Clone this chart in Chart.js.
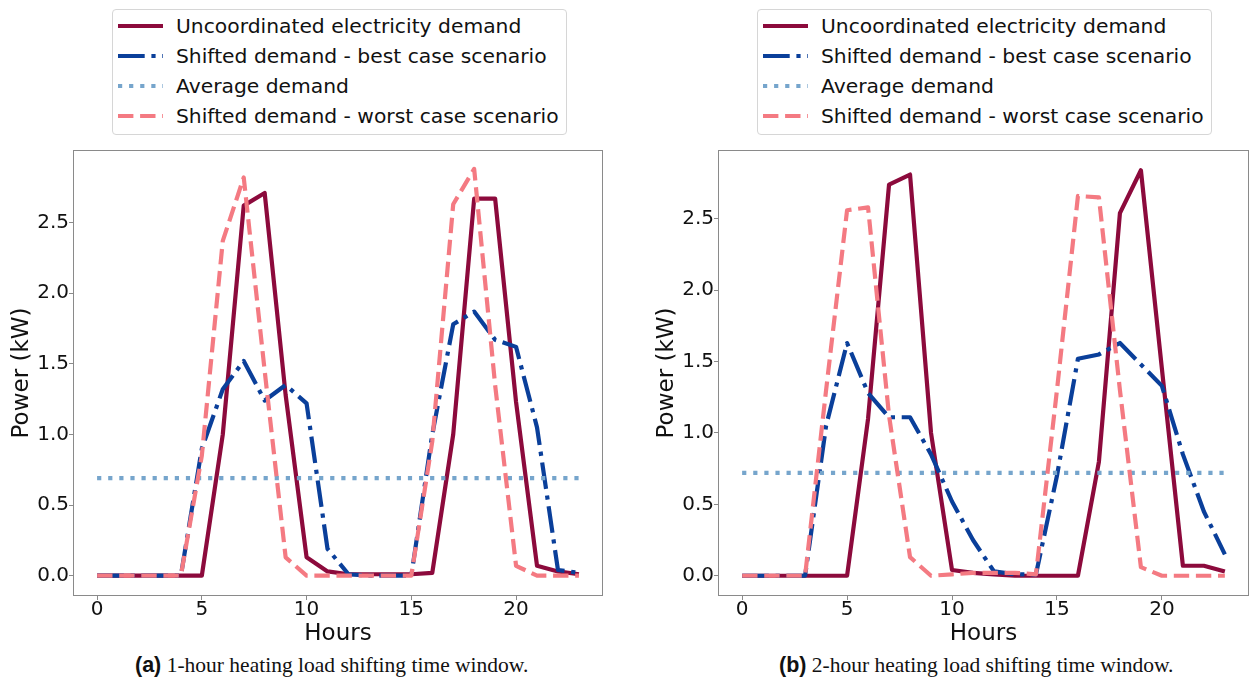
<!DOCTYPE html>
<html>
<head>
<meta charset="utf-8">
<script src="https://cdn.jsdelivr.net/npm/chart.js@4.4.0/dist/chart.umd.min.js"></script>
<style>
    body { margin: 0; width: 1253px; height: 681px; overflow: hidden; background: #fff; position: relative; font-family: "DejaVu Sans", sans-serif; }
    canvas { position: absolute; top: 140px; }
    .legend { position: absolute; top: 9px; width: 455px; height: 126px; box-sizing: border-box; border: 1px solid #d6d6d6; border-radius: 4px; background: #fff; }
    .row { position: absolute; left: 0; height: 30px; display: flex; align-items: center; font-size: 20.3px; color: #111; white-space: nowrap; }
    .row svg { margin-left: 5px; margin-right: 13px; }
    .caption { position: absolute; top: 653px; font-family: "Liberation Serif", serif; font-size: 21.5px; color: #111; white-space: nowrap; }
    .caption b { font-family: "Liberation Sans", sans-serif; }
</style>
</head>
<body>
<div class="legend" id="legendA" style="left:112px"></div>
<div class="legend" id="legendB" style="left:757px"></div>
<canvas id="chartA" width="626" height="510" style="left:0px"></canvas>
<canvas id="chartB" width="608" height="510" style="left:645px"></canvas>
<div class="caption" style="left:135px"><b>(a)</b> 1-hour heating load shifting time window.</div>
<div class="caption" style="left:779px"><b>(b)</b> 2-hour heating load shifting time window.</div>

<script>
// Data
const hours = [0, 1, 2, 3, 4, 5, 6, 7, 8, 9, 10, 11, 12, 13, 14, 15, 16, 17, 18, 19, 20, 21, 22, 23];
const xTicks = [0, 5, 10, 15, 20];
const yTicks = [0, 0.5, 1.0, 1.5, 2.0, 2.5];
const seriesLabels = ['Uncoordinated electricity demand', 'Shifted demand - best case scenario', 'Average demand', 'Shifted demand - worst case scenario'];

// (a) 1-hour window
const uncoordA = [0, 0, 0, 0, 0, 0, 1.0, 2.62, 2.71, 1.28, 0.13, 0.03, 0.01, 0.01, 0.01, 0.01, 0.02, 1.0, 2.67, 2.67, 1.23, 0.07, 0.03, 0.01];
const bestA = [0, 0, 0, 0, 0, 0.9, 1.32, 1.52, 1.24, 1.35, 1.22, 0.19, 0.01, 0, 0, 0, 1.0, 1.78, 1.87, 1.67, 1.62, 1.05, 0.04, 0.02];
const avgA = 0.69;
const worstA = [0, 0, 0, 0, 0, 0.85, 2.37, 2.82, 1.45, 0.13, 0, 0, 0, 0, 0, 0, 0.95, 2.63, 2.88, 1.35, 0.07, 0, 0, 0];

// (b) 2-hour window
const uncoordB = [0, 0, 0, 0, 0, 0, 1.1, 2.74, 2.81, 1.0, 0.04, 0.02, 0.01, 0, 0, 0, 0, 0.8, 2.54, 2.84, 1.45, 0.07, 0.07, 0.03];
const bestB = [0, 0, 0, 0, 1.05, 1.63, 1.28, 1.11, 1.11, 0.85, 0.52, 0.25, 0.03, 0.01, 0.01, 0.7, 1.52, 1.55, 1.63, 1.48, 1.33, 0.85, 0.45, 0.15];
const avgB = 0.72;
const worstB = [0, 0, 0, 0, 1.3, 2.56, 2.58, 1.12, 0.13, 0, 0.01, 0.02, 0.02, 0.02, 0.01, 1.3, 2.66, 2.65, 1.3, 0.06, 0, 0, 0, 0];

const lineStyles = [
    { color: '#8c0a3c', dash: [] },
    { color: '#0a3f9a', dash: [26.7, 6.7, 4.2, 6.7] },
    { color: '#76a5cc', dash: [4.2, 6.9] },
    { color: '#f47a82', dash: [15.4, 6.7] }
];
const axisGrey = '#8a8a8a';
const font = 'DejaVu Sans';

// box round the plot area, like matplotlib spines
const framePlugin = {
    id: 'frame',
    afterDraw(chart) {
        const { ctx, chartArea: a } = chart;
        ctx.save();
        ctx.strokeStyle = axisGrey;
        ctx.lineWidth = 1;
        const l = Math.round(a.left) + 0.5, t = Math.round(a.top) + 0.5;
        ctx.strokeRect(l, t, Math.round(a.right) - Math.round(a.left) - 1, Math.round(a.bottom) - Math.round(a.top) - 1);
        ctx.restore();
    }
};

function buildLegend(id) {
    const box = document.getElementById(id);
    seriesLabels.forEach(function(label, i) {
        const st = lineStyles[i];
        const row = document.createElement('div');
        row.className = 'row';
        row.style.top = (1 + i * 30) + 'px';
        row.innerHTML = '<svg width="45" height="10"><line x1="0" y1="5" x2="45" y2="5" stroke="' + st.color +
            '" stroke-width="4.2" stroke-dasharray="' + (st.dash.length ? st.dash.join(' ') : 'none') + '"/></svg><span>' + label + '</span>';
        box.appendChild(row);
    });
}

function makeChart(canvasId, series, avg, yMin, yMax, padRight) {
    const values = [series[0], series[1], hours.map(function() { return avg; }), series[2]];
    const datasets = values.map(function(vals, i) {
        return {
            label: seriesLabels[i],
            data: hours.map(function(h, j) { return { x: h, y: vals[j] }; }),
            borderColor: lineStyles[i].color,
            borderDash: lineStyles[i].dash,
            borderWidth: 4.2,
            borderCapStyle: 'butt',
            borderJoinStyle: 'round',
            pointRadius: 0,
            tension: 0,
            fill: false,
            order: 3 - i
        };
    });
    const ctx = document.getElementById(canvasId).getContext('2d');
    return new Chart(ctx, {
        type: 'line',
        data: { datasets: datasets },
        options: {
            responsive: false,
            animation: false,
            devicePixelRatio: 1,
            layout: { padding: { left: 0, top: 7, right: padRight, bottom: 0 } },
            plugins: { legend: { display: false }, tooltip: { enabled: false } },
            scales: {
                x: {
                    type: 'linear',
                    min: -1.15,
                    max: 24.15,
                    afterBuildTicks: function(scale) { scale.ticks = xTicks.map(function(v) { return { value: v }; }); },
                    afterFit: function(scale) { scale.height = 54; },
                    border: { display: false },
                    grid: { drawOnChartArea: false, drawTicks: true, tickLength: 4, color: axisGrey },
                    ticks: { padding: 0, color: '#111', maxRotation: 0, autoSkip: false, font: { family: font, size: 20, lineHeight: 1 } },
                    title: { display: true, text: 'Hours', color: '#111', padding: { top: 0, bottom: 2 }, font: { family: font, size: 23 } }
                },
                y: {
                    min: yMin,
                    max: yMax,
                    afterBuildTicks: function(scale) { scale.ticks = yTicks.map(function(v) { return { value: v }; }); },
                    afterFit: function(scale) { scale.width = 73; },
                    border: { display: false },
                    grid: { drawOnChartArea: false, drawTicks: true, tickLength: 4, color: axisGrey },
                    ticks: {
                        padding: 0, color: '#111', font: { family: font, size: 20, lineHeight: 1 },
                        callback: function(v) { return v.toFixed(1); }
                    },
                    title: { display: true, text: 'Power (kW)', color: '#111', padding: { top: 8, bottom: 0 }, font: { family: font, size: 23 } }
                }
            }
        },
        plugins: [framePlugin]
    });
}

buildLegend('legendA');
buildLegend('legendB');
makeChart('chartA', [uncoordA, bestA, worstA], avgA, -0.144, 3.014, 23);
makeChart('chartB', [uncoordB, bestB, worstB], avgB, -0.142, 2.982, 4);
</script>
</body>
</html>
